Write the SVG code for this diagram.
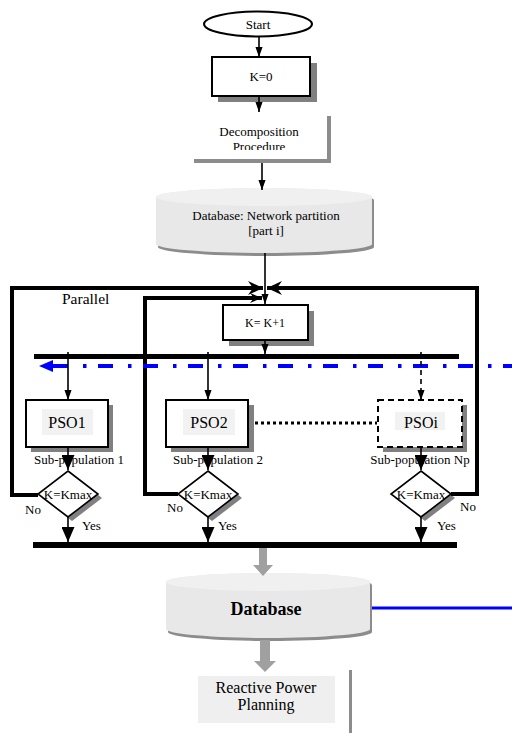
<svg xmlns="http://www.w3.org/2000/svg" width="512" height="733" viewBox="0 0 512 733">
<style>
text{font-family:"Liberation Serif","Times New Roman",serif;fill:#000}
.t13{font-size:13px}
.box{fill:#fff;stroke:#000;stroke-width:2}
.shadow{fill:#808080}
.thin{stroke:#000;stroke-width:1.6;fill:none}
.thick{stroke:#000;stroke-width:4;fill:none}
.cyl{fill:#e8e8e8}
.cyltop{fill:#f0f0f0}
.cylsh{fill:#8c8c8c}
.garrow{fill:#a0a0a0}
</style>
<defs>
<marker id="ah" markerUnits="userSpaceOnUse" markerWidth="10" markerHeight="14" refX="14" refY="5" orient="auto" viewBox="0 0 14 10">
<path d="M0,0 L14,5 L0,10 Z" fill="#000"/>
</marker>
<marker id="ahb" markerUnits="userSpaceOnUse" markerWidth="15" markerHeight="13" refX="15" refY="6.5" orient="auto" viewBox="0 0 15 13">
<path d="M0,0 L15,6.5 L0,13 Z" fill="#000"/>
</marker>
<marker id="barb" markerUnits="userSpaceOnUse" markerWidth="15" markerHeight="14" refX="15" refY="7" orient="auto" viewBox="0 0 15 14">
<path d="M0,0 L15,7 L0,14 L5,7 Z" fill="#000"/>
</marker>
<marker id="barbs" markerUnits="userSpaceOnUse" markerWidth="12" markerHeight="10" refX="12" refY="5" orient="auto" viewBox="0 0 12 10">
<path d="M0,0 L12,5 L0,10 L4,5 Z" fill="#000"/>
</marker>
<clipPath id="decclip"><rect x="180" y="110" width="160" height="40"/></clipPath>
</defs>

<g id="start">
<ellipse cx="258" cy="24" rx="54" ry="12.5" fill="#fff" stroke="#000" stroke-width="2"/>
<text class="t13" x="258" y="28.5" text-anchor="middle">Start</text>
</g>

<g id="k0">
<rect class="shadow" x="218" y="63" width="99" height="39"/>
<rect class="box" x="212" y="57" width="98" height="39"/>
<text class="t13" x="261" y="81" text-anchor="middle">K=0</text>
</g>

<g id="decomposition">
<rect fill="#8c8c8c" x="194" y="116" width="137" height="47"/>
<rect fill="#fff" x="190" y="112" width="137" height="47"/>
<g clip-path="url(#decclip)">
<text class="t13" x="259" y="136" text-anchor="middle">Decomposition</text>
<text class="t13" x="259" y="151" text-anchor="middle">Procedure</text>
</g>
</g>

<g id="db-partition">
<path class="cylsh" d="M158,200 A108,9 0 0,1 374,200 V247 A108,9 0 0,1 158,247 Z"/>
<path class="cyl" d="M156,197 A108,9 0 0,1 372,197 V244 A108,9 0 0,1 156,244 Z"/>
<ellipse class="cyltop" cx="264" cy="197" rx="108" ry="9"/>
<text class="t13" x="266" y="220" text-anchor="middle">Database: Network partition</text>
<text class="t13" x="266" y="235" text-anchor="middle">[part i]</text>
</g>

<g id="parallel-label">
<text x="62" y="304" font-size="15.5">Parallel</text>
</g>

<g id="kk1">
<rect class="shadow" x="229" y="311" width="85" height="35"/>
<rect class="box" x="223" y="305" width="85" height="35"/>
<text x="265" y="327" font-size="12" text-anchor="middle">K= K+1</text>
</g>

<g id="pso1">
<rect class="shadow" x="31" y="405" width="82" height="47"/>
<rect class="box" x="26" y="400" width="82" height="47"/>
<rect x="42" y="409" width="51" height="26" fill="#f2f2f2"/>
<text x="67" y="428" font-size="16" text-anchor="middle">PSO1</text>
<text class="t13" x="79" y="464" text-anchor="middle">Sub-population 1</text>
</g>

<g id="pso2">
<rect class="shadow" x="171" y="405" width="83" height="47"/>
<rect class="box" x="166" y="400" width="82" height="47"/>
<rect x="183" y="409" width="52" height="26" fill="#f2f2f2"/>
<text x="209" y="428" font-size="16" text-anchor="middle">PSO2</text>
<text class="t13" x="218" y="464" text-anchor="middle">Sub-population 2</text>
</g>

<g id="psoi">
<rect class="shadow" x="383" y="405" width="84" height="47"/>
<rect x="378" y="400" width="84" height="47" fill="#fff" stroke="#000" stroke-width="2" stroke-dasharray="6 4"/>
<rect x="395" y="412" width="50" height="18" fill="#f2f2f2"/>
<text x="421" y="428" font-size="16" text-anchor="middle">PSOi</text>
<text class="t13" x="420" y="464" text-anchor="middle">Sub-population Np</text>
</g>

<g id="dec1">
<polygon class="shadow" points="72,474 102,498 72,521 42,498"/>
<polygon points="68,471 98,494 68,517 38,494" fill="#fff" stroke="#000" stroke-width="1.6"/>
<text class="t13" x="68" y="499" text-anchor="middle">K=Kmax</text>
<text class="t13" x="25" y="514">No</text>
<text class="t13" x="82" y="530">Yes</text>
</g>

<g id="dec2">
<polygon class="shadow" points="212,474 242,498 212,521 182,498"/>
<polygon points="208,471 238,494 208,517 178,494" fill="#fff" stroke="#000" stroke-width="1.6"/>
<text class="t13" x="208" y="499" text-anchor="middle">K=Kmax</text>
<text class="t13" x="167" y="512">No</text>
<text class="t13" x="218" y="530">Yes</text>
</g>

<g id="dec3">
<polygon class="shadow" points="425,474 455,498 425,521 395,498"/>
<polygon points="421,471 451,494 421,517 391,494" fill="#fff" stroke="#000" stroke-width="1.6"/>
<text class="t13" x="421" y="499" text-anchor="middle">K=Kmax</text>
<text class="t13" x="460" y="511">No</text>
<text class="t13" x="437" y="530">Yes</text>
</g>

<g id="database">
<path class="cylsh" d="M168,585 A102,9 0 0,1 372,585 V632 A102,9 0 0,1 168,632 Z"/>
<path class="cyl" d="M166,582 A102,9 0 0,1 370,582 V629 A102,9 0 0,1 166,629 Z"/>
<ellipse class="cyltop" cx="268" cy="582" rx="102" ry="9"/>
<text x="266" y="615" font-size="18" font-weight="bold" text-anchor="middle">Database</text>
</g>

<g id="rpp">
<rect x="349" y="670" width="3" height="63" fill="#8c8c8c"/>
<rect x="198" y="676" width="137" height="47" fill="#efefef"/>
<text x="266" y="693" font-size="16" text-anchor="middle">Reactive Power</text>
<text x="266" y="710" font-size="16" text-anchor="middle">Planning</text>
</g>

<g id="connectors">
<line class="thin" x1="259" y1="37" x2="259" y2="57" marker-end="url(#ah)"/>
<line class="thin" x1="259" y1="96" x2="259" y2="112" marker-end="url(#ah)"/>
<line class="thin" x1="262" y1="163" x2="262" y2="190" marker-end="url(#ah)"/>
<line class="thin" x1="265" y1="253" x2="265" y2="304" marker-end="url(#ah)"/>
<path class="thick" d="M38,495 H12 V288 H263" marker-end="url(#barb)"/>
<path class="thick" d="M178,494 H145 V298 H262" marker-end="url(#barbs)"/>
<path class="thick" d="M451,494 H477 V288 H267" marker-end="url(#barb)"/>
<line class="thin" x1="265" y1="340" x2="265" y2="354" marker-end="url(#ah)"/>
<rect x="34" y="354" width="425" height="5" fill="#000"/>
<line x1="53" y1="366" x2="512" y2="366" stroke="#0000ff" stroke-width="4" stroke-dasharray="15 15 3.5 11.5"/>
<polygon points="39,366 53,360 53,372" fill="#0000ff"/>
<line class="thin" x1="68" y1="352" x2="68" y2="400" marker-end="url(#ah)"/>
<line class="thin" x1="208" y1="352" x2="208" y2="400" marker-end="url(#ah)"/>
<line class="thin" x1="421" y1="352" x2="421" y2="400" stroke-dasharray="5 4" marker-end="url(#ah)"/>
<line class="thin" x1="68" y1="447" x2="68" y2="470" marker-end="url(#ahb)"/>
<line class="thin" x1="208" y1="447" x2="208" y2="470" marker-end="url(#ahb)"/>
<line class="thin" x1="421" y1="447" x2="421" y2="470" marker-end="url(#ahb)"/>
<line x1="255" y1="423" x2="377" y2="423" stroke="#000" stroke-width="3" stroke-dasharray="3 3"/>
<line class="thin" x1="68" y1="517" x2="68" y2="542" marker-end="url(#ahb)"/>
<line class="thin" x1="208" y1="517" x2="208" y2="542" marker-end="url(#ahb)"/>
<line class="thin" x1="421" y1="517" x2="421" y2="542" marker-end="url(#ahb)"/>
<rect x="33" y="542" width="424" height="6" fill="#000"/>
<rect class="garrow" x="259" y="548" width="8" height="17"/>
<polygon class="garrow" points="253,565 273,565 263,576"/>
<line x1="372" y1="608" x2="512" y2="608" stroke="#0000ff" stroke-width="3"/>
<rect class="garrow" x="260" y="640" width="10" height="21"/>
<polygon class="garrow" points="254,661 276,661 265,672"/>
</g>
</svg>
